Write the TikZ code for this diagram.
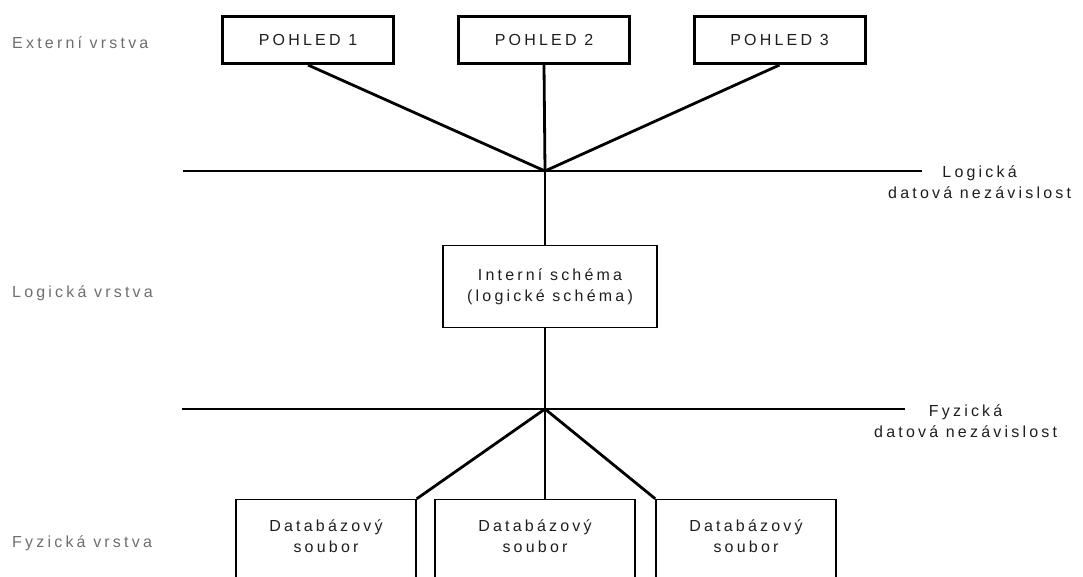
\documentclass[tikz,border=0pt]{standalone}
\usepackage{fontspec}
\setmainfont{Liberation Sans}[LetterSpace=20]
\definecolor{labgray}{HTML}{6E6E6E}
\definecolor{ink}{HTML}{1E1E1E}
\begin{document}
\begin{tikzpicture}[x=1pt,y=-1pt,
  txt/.style={font=\fontsize{16}{21}\selectfont, text=ink, align=center},
  layer/.style={font=\fontsize{16}{21}\selectfont, text=labgray, anchor=west, inner sep=0pt},
  viewbox/.style={draw, line width=3pt, minimum width=171pt, minimum height=47pt, inner sep=0pt, txt},
  schemabox/.style={draw, line width=1.5pt, minimum width=214pt, minimum height=82pt, inner sep=0pt, txt},
  filebox/.style={draw, line width=1.5pt, minimum height=110pt, inner sep=0pt, anchor=north},
  conn/.style={line width=2.8pt},
]
\useasboundingbox (0,0) rectangle (1083,576);
\clip (0,0) rectangle (1083,576);

% layer captions on the left
\node[layer] (lext) at (12,43) {Externí vrstva};
\node[layer] (llog) at (12,293) {Logická vrstva};
\node[layer] (lfyz) at (12,543) {Fyzická vrstva};

% external views
\node[viewbox] (v1) at (308,40) {POHLED 1};
\node[viewbox] (v2) at (544,40) {POHLED 2};
\node[viewbox] (v3) at (779.5,40) {POHLED 3};

% logical data independence boundary
\coordinate (j1) at (545,171);
\coordinate (h1a) at (183,171);
\coordinate (h1b) at (922,171);
\draw[conn] (h1a) -- (h1b);
\node[txt, anchor=west, inner sep=0pt] (ldi) at (888,182) {Logická\\datová nezávislost};

\draw[conn] (v1.south) -- (j1);
\draw[conn] (v2.south) -- (j1);
\draw[conn] (v3.south) -- (j1);

% internal schema
\node[schemabox] (intern) at (550,286.5) {Interní schéma\\(logické schéma)};
\draw[conn] (j1) -- (j1 |- intern.north);

% physical data independence boundary
\coordinate (j2) at (545,409);
\coordinate (h2a) at (182,409);
\coordinate (h2b) at (905,409);
\draw[conn] (h2a) -- (h2b);
\node[txt, anchor=west, inner sep=0pt] (pdi) at (874,421) {Fyzická\\datová nezávislost};
\draw[conn] (j2 |- intern.south) -- (j2);

% database files
\node[filebox, minimum width=180pt,
  label={[txt, anchor=north, yshift=-17pt]north:Databázový\\soubor}] (f1) at (326,498.75) {};
\node[filebox, minimum width=200pt,
  label={[txt, anchor=north, yshift=-17pt]north:Databázový\\soubor}] (f2) at (535,498.75) {};
\node[filebox, minimum width=180pt,
  label={[txt, anchor=north, yshift=-17pt]north:Databázový\\soubor}] (f3) at (746,498.75) {};

\draw[conn] (j2) -- (f1.north east);
\draw[conn] (j2) -- (j2 |- f2.north);
\draw[conn] (j2) -- (f3.north west);
\end{tikzpicture}
\end{document}
